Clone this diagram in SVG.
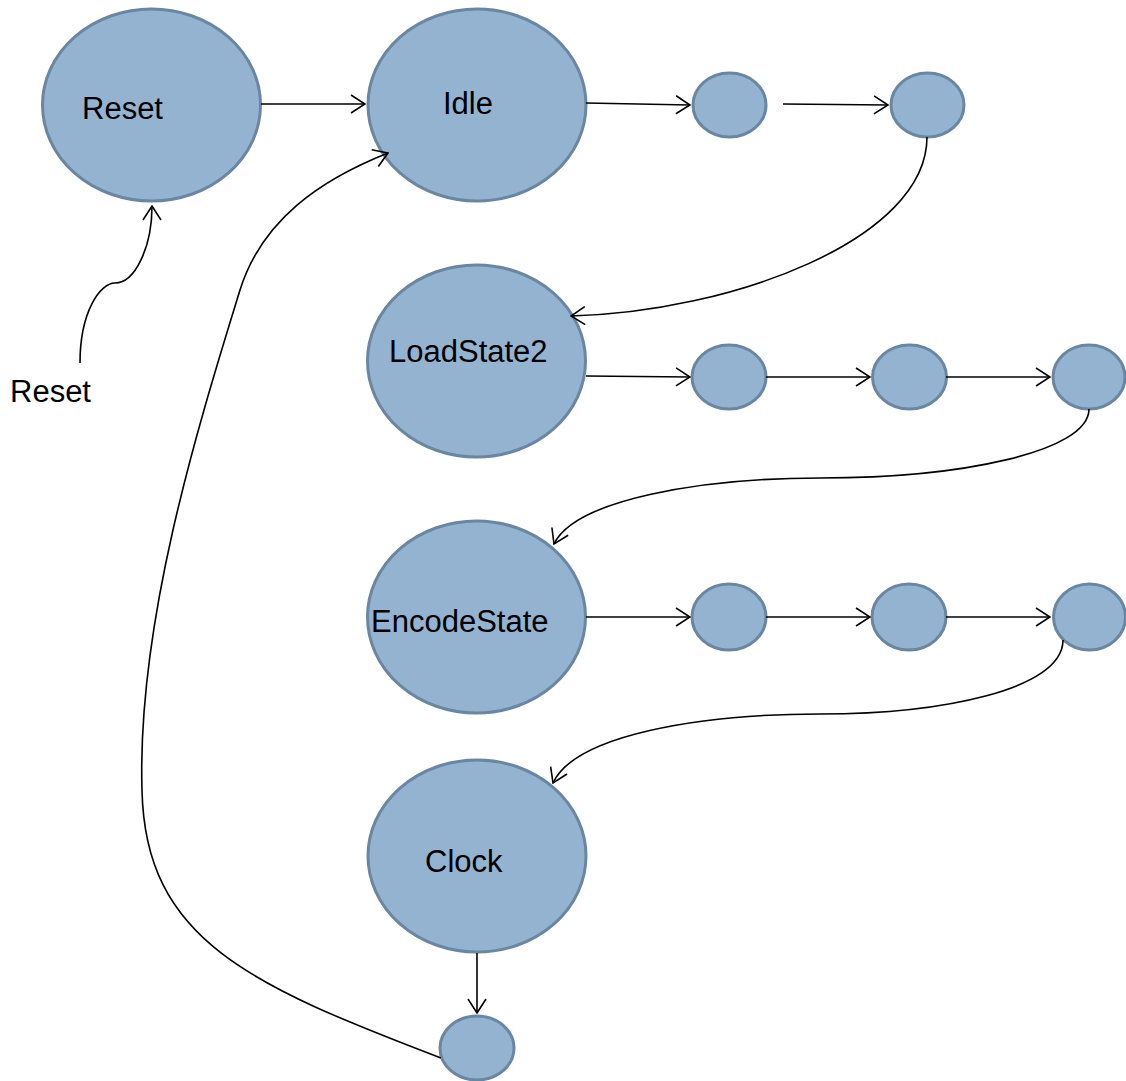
<svg xmlns="http://www.w3.org/2000/svg" width="1126" height="1081" viewBox="0 0 1126 1081">
<style>
.node{fill:#94b3d1;stroke:#6a86a0;stroke-width:3}
.lbl{font-family:"Liberation Sans",Arial,sans-serif;font-size:31px;fill:#000}
.edge{fill:none;stroke:#000;stroke-width:1.6;marker-end:url(#arr)}
</style>
<defs>
<marker id="arr" viewBox="0 0 16 20" refX="15" refY="10" markerWidth="16" markerHeight="20" markerUnits="userSpaceOnUse" orient="auto">
<path d="M1,1 L15,10 L1,19" fill="none" stroke="#000" stroke-width="1.6"/>
</marker>
</defs>
<rect width="1126" height="1081" fill="#fff"/>
<g id="n-reset"><ellipse class="node" cx="151.5" cy="105" rx="109" ry="96"/><text class="lbl" x="82" y="119">Reset</text></g>
<g id="n-idle"><ellipse class="node" cx="477" cy="105" rx="109" ry="96"/><text class="lbl" x="443" y="114">Idle</text></g>
<g id="n-a1"><ellipse class="node" cx="729.5" cy="105" rx="36.5" ry="32"/></g>
<g id="n-a2"><ellipse class="node" cx="927.5" cy="105" rx="36.5" ry="32"/></g>
<g id="n-load"><ellipse class="node" cx="476.5" cy="361" rx="109" ry="96"/><text class="lbl" x="389" y="362">LoadState2</text></g>
<g id="n-b1"><ellipse class="node" cx="729" cy="377" rx="37" ry="32"/></g>
<g id="n-b2"><ellipse class="node" cx="909.5" cy="377" rx="37" ry="32"/></g>
<g id="n-b3"><ellipse class="node" cx="1089" cy="377" rx="36" ry="32"/></g>
<g id="n-enc"><ellipse class="node" cx="476.5" cy="617" rx="109" ry="96"/><text class="lbl" x="371" y="632">EncodeState</text></g>
<g id="n-c1"><ellipse class="node" cx="729" cy="617" rx="37" ry="33"/></g>
<g id="n-c2"><ellipse class="node" cx="909" cy="617" rx="37" ry="33"/></g>
<g id="n-c3"><ellipse class="node" cx="1089.5" cy="617" rx="36" ry="33"/></g>
<g id="n-clock"><ellipse class="node" cx="477" cy="856" rx="109" ry="96"/><text class="lbl" x="425" y="872">Clock</text></g>
<g id="n-d1"><ellipse class="node" cx="477" cy="1048" rx="37" ry="32"/></g>
<text id="lbl-reset-in" class="lbl" x="10" y="402">Reset</text>
<g id="connectors">
<path class="edge" d="M80,363 C80,312 100,283 115,283 C135,283 152,247 152,206"/>
<path class="edge" d="M261,104 L365,104"/>
<path class="edge" d="M586,103 L690,105"/>
<path class="edge" d="M783,104 L888,105"/>
<path class="edge" d="M927,137 C927,240 730,312 571,316"/>
<path class="edge" d="M586,376 L690,377"/>
<path class="edge" d="M766,377 L870,377"/>
<path class="edge" d="M946,377 L1050,377"/>
<path class="edge" d="M1089,409 C1089,452 960,478 820,478 C700,478 575,500 554,544"/>
<path class="edge" d="M586,617 L690,617"/>
<path class="edge" d="M766,617 L870,617"/>
<path class="edge" d="M946,617 L1050,617"/>
<path class="edge" d="M1063,640 C1063,690 940,714 820,714 C700,714 575,735 553,783"/>
<path class="edge" d="M477,953 L477,1013"/>
<path class="edge" d="M441,1058 C250,985 145,940 142,790 C137,620 200,420 240,290 C262,220 320,180 388,153"/>
</g>
</svg>
